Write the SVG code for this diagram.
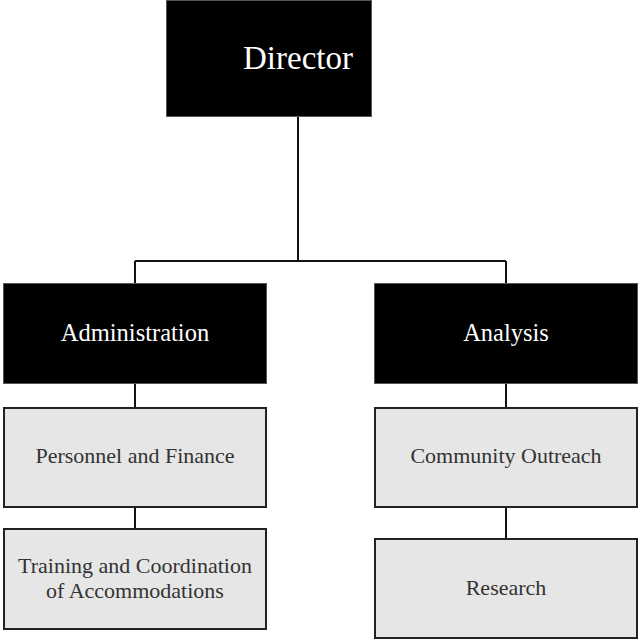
<svg xmlns="http://www.w3.org/2000/svg" width="638" height="639" viewBox="0 0 638 639">
<style>
.dark{fill:#000;stroke:#555;stroke-width:1}
.light{fill:#e6e6e6;stroke:#222;stroke-width:2}
.conn{fill:none;stroke:#111;stroke-width:2}
text{font-family:"Liberation Serif","DejaVu Serif",serif;text-anchor:middle}
.tw{fill:#fff}
.tb{fill:#333}
</style>
<rect width="638" height="639" fill="#fff"/>
<g id="connectors">
<path class="conn" d="M298,117 V261 M135,261 H506 M135,261 V283 M506,261 V283 M135,384 V408 M506,384 V408 M135,507 V529 M506,507 V539"/>
</g>
<g id="director">
<rect class="dark" x="166.5" y="0.5" width="205" height="116"/>
<text class="tw" x="298" y="69" font-size="33">Director</text>
</g>
<g id="administration">
<rect class="dark" x="3.5" y="283.5" width="263" height="100"/>
<text class="tw" x="135" y="341" font-size="24.5">Administration</text>
</g>
<g id="analysis">
<rect class="dark" x="374.5" y="283.5" width="263" height="100"/>
<text class="tw" x="506" y="341" font-size="24.5">Analysis</text>
</g>
<g id="personnel">
<rect class="light" x="4" y="408" width="262" height="99"/>
<text class="tb" x="135" y="463" font-size="22">Personnel and Finance</text>
</g>
<g id="training">
<rect class="light" x="4" y="529" width="262" height="100"/>
<text class="tb" x="135" y="573" font-size="22">Training and Coordination</text>
<text class="tb" x="135" y="598" font-size="22">of Accommodations</text>
</g>
<g id="community">
<rect class="light" x="375" y="408" width="262" height="99"/>
<text class="tb" x="506" y="463" font-size="22">Community Outreach</text>
</g>
<g id="research">
<rect class="light" x="375" y="539" width="262" height="99"/>
<text class="tb" x="506" y="595" font-size="22">Research</text>
</g>
</svg>
